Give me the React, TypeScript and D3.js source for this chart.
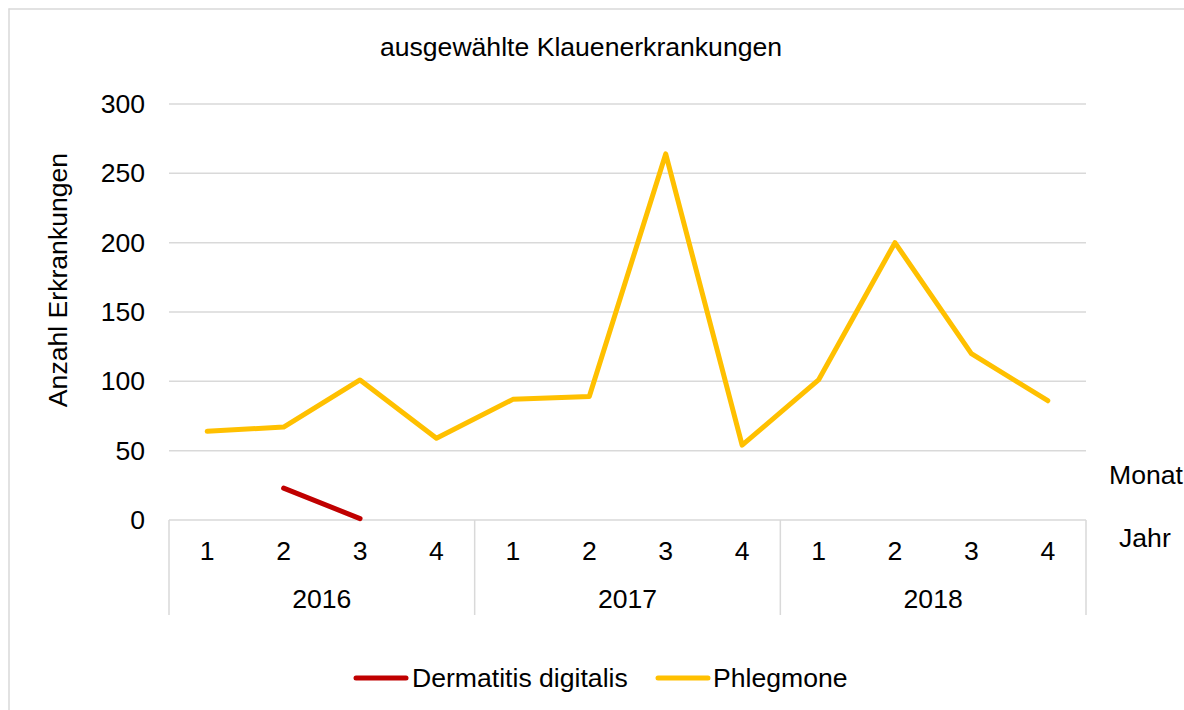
import React from "react";
import * as d3 from "d3";

const months = ["1", "2", "3", "4", "1", "2", "3", "4", "1", "2", "3", "4"];
const years = ["2016", "2017", "2018"];
const dermatitis: (number | null)[] = [null, 23, 1, null, null, null, null, null, null, null, null, null];
const phlegmone: number[] = [64, 67, 101, 59, 87, 89, 264, 54, 101, 200, 120, 86];
const yTicks = [0, 50, 100, 150, 200, 250, 300];

const W = 1184;
const H = 710;
const left = 169;
const right = 1086;
const top = 104;
const bottom = 520;
const font = "Arial, 'Liberation Sans', sans-serif";
const fs = 26.6;

export default function App() {
  const idx = d3.range(months.length);
  const x = d3.scaleBand<number>().domain(idx).range([left, right]);
  const y = d3.scaleLinear().domain([0, 300]).range([bottom, top]);
  const cx = (i: number) => (x(i) as number) + x.bandwidth() / 2;

  const line = d3
    .line<number | null>()
    .defined((d) => d !== null)
    .x((_, i) => cx(i))
    .y((d) => y(d as number));

  const yearBounds = d3.range(years.length + 1).map((k) => left + k * 4 * x.bandwidth());

  return (
    <svg width={W} height={H} style={{ display: "block", position: "absolute", left: 0, top: 0 }} fontFamily={font}>
      <rect x={0} y={0} width={W} height={H} fill="#fff" />
      <line x1={8.5} y1={9} x2={W} y2={9} stroke="#D9D9D9" strokeWidth={1.5} />
      <line x1={9} y1={8.5} x2={9} y2={H} stroke="#D9D9D9" strokeWidth={1.5} />

      <text x={581} y={56} fontSize={fs} textAnchor="middle" fill="#000">
        ausgewählte Klauenerkrankungen
      </text>

      {yTicks.map((t) => (
        <g key={t}>
          {t > 0 && (
            <line x1={left} x2={right} y1={y(t)} y2={y(t)} stroke="#D9D9D9" strokeWidth={1.5} />
          )}
          <text x={145} y={y(t) + 9} fontSize={fs} textAnchor="end" fill="#000">
            {t}
          </text>
        </g>
      ))}

      <text
        transform={`translate(67, 280) rotate(-90)`}
        fontSize={fs}
        textAnchor="middle"
        fill="#000"
      >
        Anzahl Erkrankungen
      </text>

      {/* category axis */}
      <line x1={left} x2={right} y1={bottom} y2={bottom} stroke="#D9D9D9" strokeWidth={1.5} />
      {yearBounds.map((bx, k) => (
        <line key={k} x1={bx} x2={bx} y1={bottom} y2={615} stroke="#D9D9D9" strokeWidth={1.5} />
      ))}
      {months.map((m, i) => (
        <text key={i} x={cx(i)} y={560} fontSize={fs} textAnchor="middle" fill="#000">
          {m}
        </text>
      ))}
      {years.map((yr, k) => (
        <text
          key={yr}
          x={(yearBounds[k] + yearBounds[k + 1]) / 2}
          y={608}
          fontSize={fs}
          textAnchor="middle"
          fill="#000"
        >
          {yr}
        </text>
      ))}
      <text x={1109} y={484} fontSize={fs} fill="#000">
        Monat
      </text>
      <text x={1119} y={547} fontSize={fs} fill="#000">
        Jahr
      </text>

      <path d={line(phlegmone) || ""} fill="none" stroke="#FFC000" strokeWidth={5} strokeLinejoin="round" strokeLinecap="round" />
      <path d={line(dermatitis) || ""} fill="none" stroke="#C00000" strokeWidth={5} strokeLinejoin="round" strokeLinecap="round" />

      {/* legend */}
      <line x1={356} x2={406} y1={678} y2={678} stroke="#C00000" strokeWidth={5} strokeLinecap="round" />
      <text x={412} y={687} fontSize={fs} fill="#000">
        Dermatitis digitalis
      </text>
      <line x1={658} x2={708} y1={678} y2={678} stroke="#FFC000" strokeWidth={5} strokeLinecap="round" />
      <text x={713} y={687} fontSize={fs} fill="#000">
        Phlegmone
      </text>
    </svg>
  );
}
